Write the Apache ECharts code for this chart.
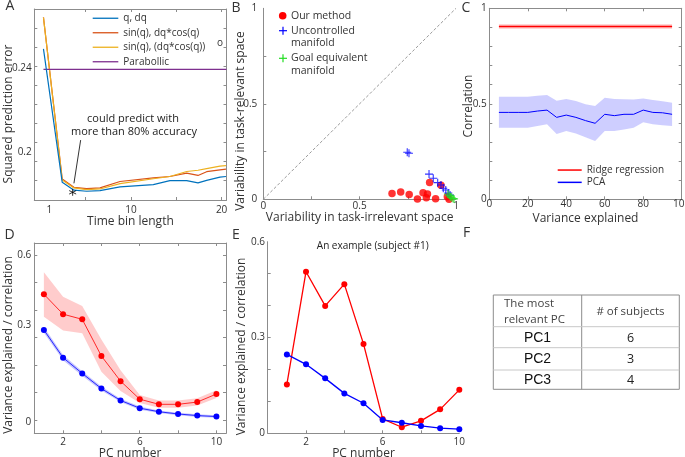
<!DOCTYPE html>
<html>
<head>
<meta charset="utf-8">
<script src="https://cdn.jsdelivr.net/npm/echarts@6/dist/echarts.min.js"></script>
<style>
html, body { margin: 0; padding: 0; background: #fff; }
#chart { width: 685px; height: 457px; }
</style>
</head>
<body>
<div id="chart"></div>
<script>
var FONT = 'Open Sans';
var TXT = '#333';
var AX = '#8c8c8c';

// A: prediction error vs time bin length
var binX = [0.36, 2.43, 3.72, 5.12, 6.59, 8.8, 12.47, 14.3, 16.15, 17.4, 18.35, 19.82, 20.48];
var errQ = [0.2494, 0.1853, 0.1815, 0.1810, 0.1813, 0.1831, 0.1842, 0.1861, 0.1861, 0.1850, 0.1862, 0.1878, 0.1881];
var errSin = [0.2646, 0.1869, 0.1829, 0.1823, 0.1826, 0.1857, 0.1874, 0.1881, 0.1897, 0.1886, 0.1904, 0.1913, 0.1916];
var errSinB = [0.2645, 0.1864, 0.1826, 0.1818, 0.1821, 0.1847, 0.1870, 0.1881, 0.1905, 0.1911, 0.1919, 0.1931, 0.1933];
var paraX = [0.36, 20.54];
var paraY = [0.2396, 0.2396];
var bestX = [3.58];
var bestY = [0.1805];

// B: variability
var ourX = [0.668, 0.713, 0.757, 0.80, 0.829, 0.852, 0.846, 0.863, 0.894, 0.922, 0.955, 0.964];
var ourY = [0.031, 0.038, 0.025, 0.002, 0.034, 0.028, 0.008, 0.088, 0.003, 0.074, 0.014, 0.0];
var ucmX = [0.747, 0.756, 0.86, 0.882, 0.905, 0.922, 0.934, 0.947, 0.96, 0.969];
var ucmY = [0.246, 0.241, 0.132, 0.11, 0.087, 0.075, 0.058, 0.049, 0.033, 0.022];
var gemX = [0.958, 0.965, 0.972, 0.978, 0.985, 0.99];
var gemY = [0.028, 0.02, 0.013, 0.008, 0.004, 0.002];

// C: correlation vs variance explained
var ridgeX = [5, 95];
var ridgeY = [0.905, 0.905];
var ridgeLo = [0.893, 0.893];
var ridgeHi = [0.917, 0.917];
var pcaX = [5, 10, 15, 20, 25, 30, 35, 40, 45, 50, 55, 60, 65, 70, 75, 80, 85, 90, 95];
var pcaY = [0.455, 0.455, 0.455, 0.455, 0.462, 0.467, 0.429, 0.441, 0.429, 0.412, 0.398, 0.445, 0.438, 0.445, 0.445, 0.467, 0.455, 0.453, 0.445];
var pcaHi = [0.537, 0.537, 0.537, 0.537, 0.542, 0.546, 0.516, 0.525, 0.515, 0.497, 0.488, 0.532, 0.525, 0.524, 0.523, 0.528, 0.520, 0.513, 0.506];
var pcaLo = [0.375, 0.375, 0.375, 0.375, 0.384, 0.393, 0.342, 0.358, 0.345, 0.325, 0.305, 0.358, 0.358, 0.366, 0.375, 0.403, 0.393, 0.388, 0.384];

// D: mean over subjects
var pcNum = [1, 2, 3, 4, 5, 6, 7, 8, 9, 10];
var dCorr = [0.396, 0.334, 0.318, 0.204, 0.126, 0.070, 0.054, 0.054, 0.061, 0.086];
var dCorrHi = [0.464, 0.388, 0.359, 0.255, 0.160, 0.083, 0.066, 0.066, 0.073, 0.098];
var dCorrLo = [0.326, 0.283, 0.275, 0.155, 0.095, 0.058, 0.043, 0.043, 0.050, 0.074];
var dVar = [0.285, 0.199, 0.150, 0.103, 0.066, 0.042, 0.031, 0.024, 0.019, 0.016];
var dVarHi = [0.294, 0.207, 0.157, 0.109, 0.071, 0.047, 0.035, 0.028, 0.023, 0.020];
var dVarLo = [0.276, 0.191, 0.143, 0.097, 0.061, 0.037, 0.027, 0.020, 0.015, 0.012];

// E: subject #1
var eCorr = [0.153, 0.506, 0.399, 0.467, 0.280, 0.045, 0.019, 0.039, 0.075, 0.136];
var eVar = [0.247, 0.216, 0.172, 0.125, 0.094, 0.042, 0.033, 0.023, 0.016, 0.013];

// F: table
var tableHead = ['The most\nrelevant PC', '# of subjects'];
var tablePC = ['PC1', 'PC2', 'PC3'];
var tableCount = [6, 3, 4];

// axis ticks / labels
var aXTicks = [5, 10, 15, 20], aXLabels = [1, 10, 20];
var aYTicks = [0.2593, 0.2502, 0.2411, 0.2321, 0.2228, 0.2137, 0.2046, 0.1954, 0.1863];
var aYLabels = [0.2, 0.24];
var bTicks = [0.25, 0.5, 0.75], bLabels = [0, 0.5, 1];
var cXTicks = [20, 40, 60, 80], cXLabels = [0, 20, 40, 60, 80, 100];
var cYTicks = [0.1, 0.2, 0.3, 0.4, 0.5, 0.6, 0.7, 0.8, 0.9], cYLabels = [0, 0.5, 1];
var pcTicks = [2, 4, 6, 8, 10], pcLabels = [2, 6, 10];
var dYTicks = [0.005, 0.090, 0.176, 0.261, 0.347, 0.432, 0.518];
var dYLabels = [0, 0.3, 0.516], dYText = ['0', '0.3', '0.6'];
var eYTicks = [0.1, 0.2, 0.3, 0.4, 0.5], eYLabels = [0, 0.3, 0.6];

function pairs(xs, ys) {
	return xs.map(function (x, i) { return [x, ys[i]]; });
}

function axis(gi, pos, min, max, ticks, labels, o) {
	o = o || {};
	var a = {
		type: 'value', gridIndex: gi, position: pos, min: min, max: max,
		splitLine: { show: false },
		axisLine: { show: true, onZero: false, lineStyle: { color: AX, width: 1 } },
		axisTick: { show: true, inside: true, length: 3, customValues: ticks, lineStyle: { color: AX } },
		axisLabel: { show: false }
	};
	if (labels) {
		a.axisLabel = {
			show: true, customValues: labels, fontSize: 10, color: TXT, fontFamily: FONT,
			margin: o.margin == null ? 3 : o.margin,
			formatter: function (v) {
				for (var i = 0; i < labels.length; i++) {
					if (Math.abs(labels[i] - v) < 1e-6) return o.text ? o.text[i] : String(labels[i]);
				}
				return String(v);
			}
		};
	}
	if (o.name) {
		a.name = o.name;
		a.nameLocation = 'middle';
		a.nameGap = o.gap;
		a.nameTextStyle = { fontSize: 12, color: TXT, fontFamily: FONT };
	}
	return a;
}

function band(xi, yi, xs, lo, hi, color) {
	return {
		type: 'custom', xAxisIndex: xi, yAxisIndex: yi, silent: true, z: 1,
		data: [[xs[0], lo[0]]],
		renderItem: function (params, api) {
			var pts = [];
			for (var i = 0; i < xs.length; i++) pts.push(api.coord([xs[i], hi[i]]));
			for (var j = xs.length - 1; j >= 0; j--) pts.push(api.coord([xs[j], lo[j]]));
			return { type: 'polygon', shape: { points: pts }, style: { fill: color } };
		}
	};
}

var PLUS = 'path://M4.3,0H5.7V4.3H10V5.7H5.7V10H4.3V5.7H0V4.3H4.3Z';
var STAR = 'path://M0,-5L0,5M-4.3,-2.5L4.3,2.5M-4.3,2.5L4.3,-2.5';

function txt(x, y, s, size, extra) {
	var st = { text: s, x: x, y: y, fill: TXT, fontSize: size, fontFamily: FONT, align: 'center', verticalAlign: 'middle' };
	for (var k in extra) st[k] = extra[k];
	return { type: 'text', silent: true, style: st };
}

// rotated y-axis titles
function ytitle(x, y, s) {
	return {
		type: 'text', silent: true, x: x, y: y, rotation: Math.PI / 2,
		style: { text: s, x: 0, y: 0, fill: TXT, fontSize: 12, fontFamily: FONT, align: 'center', verticalAlign: 'middle' }
	};
}

var graphics = [
	txt(10, 6, 'A', 14), txt(236, 8, 'B', 14), txt(466, 8, 'C', 14),
	txt(9.5, 235, 'D', 14), txt(236, 235, 'E', 14), txt(466.5, 233, 'F', 14),
	ytitle(8.5, 114, 'Squared prediction error'),
	ytitle(241, 121, 'Variability in task-relevant space'),
	ytitle(468.3, 106, 'Correlation'),
	ytitle(9, 345, 'Variance explained / correlation'),
	ytitle(241.7, 346.5, 'Variance explained / correlation'),
	txt(133, 118.7, 'could predict with', 11, { fill: '#222' }),
	txt(134, 132.2, 'more than 80% accuracy', 11, { fill: '#222' }),
	txt(220, 42.7, 'o', 10),
	txt(372.7, 245.7, 'An example (subject #1)', 10, { fill: '#222' }),
	// legend B
	{ type: 'circle', silent: true, shape: { cx: 282.7, cy: 15.7, r: 3.8 }, style: { fill: '#ff0000' } },
	txt(291, 15.7, 'Our method', 10.5, { align: 'left' }),
	{ type: 'line', silent: true, shape: { x1: 279, y1: 30.7, x2: 287, y2: 30.7 }, style: { stroke: '#0000ff', lineWidth: 1.2 } },
	{ type: 'line', silent: true, shape: { x1: 283, y1: 26.7, x2: 283, y2: 34.7 }, style: { stroke: '#0000ff', lineWidth: 1.2 } },
	txt(291, 30.7, 'Uncontrolled', 10.5, { align: 'left' }),
	txt(291, 43.3, 'manifold', 10.5, { align: 'left' }),
	{ type: 'line', silent: true, shape: { x1: 279, y1: 58.3, x2: 287, y2: 58.3 }, style: { stroke: '#22dd22', lineWidth: 1.2 } },
	{ type: 'line', silent: true, shape: { x1: 283, y1: 54.3, x2: 283, y2: 62.3 }, style: { stroke: '#22dd22', lineWidth: 1.2 } },
	txt(291, 58.3, 'Goal equivalent', 10.5, { align: 'left' }),
	txt(291, 71, 'manifold', 10.5, { align: 'left' })
];

// table F
var tLeft = 493.3, tRight = 679.3, tTop = 295, tBottom = 389.3, tMid = 581.7;
var rowLines = [326.7, 347.7, 370];
var rowCenters = [338.5, 359.5, 380];
graphics.push({ type: 'rect', silent: true, shape: { x: tLeft, y: tTop, width: tRight - tLeft, height: tBottom - tTop }, style: { fill: 'none', stroke: '#8c8c8c', lineWidth: 1 } });
graphics.push({ type: 'line', silent: true, shape: { x1: tMid, y1: tTop, x2: tMid, y2: tBottom }, style: { stroke: '#8c8c8c', lineWidth: 1 } });
rowLines.forEach(function (y) {
	graphics.push({ type: 'line', silent: true, shape: { x1: tLeft, y1: y, x2: tRight, y2: y }, style: { stroke: '#c8c8c8', lineWidth: 1 } });
});
graphics.push(txt(504, 312, tableHead[0], 11.5, { align: 'left', lineHeight: 16, fill: '#444' }));
graphics.push(txt((tMid + tRight) / 2, 312, tableHead[1], 11.5, { fill: '#444' }));
tablePC.forEach(function (s, i) {
	graphics.push(txt((tLeft + tMid) / 2, rowCenters[i], s, 14, { fontFamily: 'Liberation Sans', fill: '#111' }));
	graphics.push(txt((tMid + tRight) / 2, rowCenters[i], String(tableCount[i]), 12.5, { fill: '#222' }));
});

var lineBase = { type: 'line', symbol: 'none', animation: false };

var option = {
	animation: false,
	backgroundColor: '#fff',
	grid: [
		{ left: 34.3, top: 9, width: 192.2, height: 191, outerBoundsMode: 'none' },
		{ left: 263.3, top: 8.3, width: 192.7, height: 191, outerBoundsMode: 'none' },
		{ left: 489.3, top: 8.3, width: 192.4, height: 191, outerBoundsMode: 'none' },
		{ left: 34.3, top: 243, width: 191.7, height: 190.3, outerBoundsMode: 'none' },
		{ left: 267.7, top: 241.7, width: 191.6, height: 191.6, outerBoundsMode: 'none' }
	],
	xAxis: [
		axis(0, 'bottom', -0.65, 20.54, aXTicks, aXLabels, { name: 'Time bin length', gap: 11, margin: 5 }),
		axis(0, 'top', -0.65, 20.54, aXTicks, null),
		axis(1, 'bottom', 0, 1, bTicks, bLabels, { name: 'Variability in task-irrelevant space', gap: 9, margin: 1.5 }),
		axis(2, 'bottom', 0, 100, cXTicks, cXLabels, { name: 'Variance explained', gap: 13, margin: 0 }),
		axis(2, 'top', 0, 100, cXTicks, null),
		axis(3, 'bottom', 0.5, 10.5, pcTicks, pcLabels, { name: 'PC number', gap: 13.5, margin: 3.5 }),
		axis(3, 'top', 0.5, 10.5, pcTicks, null),
		axis(4, 'bottom', 0, 10, pcTicks.slice(0, 4), pcLabels, { name: 'PC number', gap: 12, margin: 3.5 })
	],
	yAxis: [
		axis(0, 'left', 0.1768, 0.2686, aYTicks, aYLabels, { margin: 2.6 }),
		axis(0, 'right', 0.1768, 0.2686, aYTicks, null),
		axis(1, 'left', 0, 1, bTicks, bLabels, { margin: 6 }),
		axis(2, 'left', 0, 1, cYTicks, cYLabels, { margin: 2.6 }),
		axis(2, 'right', 0, 1, cYTicks, null),
		axis(3, 'left', -0.036, 0.555, dYTicks, dYLabels, { margin: 3, text: dYText }),
		axis(3, 'right', -0.036, 0.555, dYTicks, null),
		axis(4, 'left', 0, 0.6, eYTicks, eYLabels, { margin: 2.7 })
	],
	legend: [
		{
			data: ['q, dq', 'sin(q), dq*cos(q)', 'sin(q), (dq*cos(q))', 'Parabollic'],
			orient: 'vertical', left: 92.7, top: 11, icon: 'rect', itemWidth: 25.6, itemHeight: 1.3, itemGap: 0,
			selectedMode: false, padding: 0,
			textStyle: { fontSize: 10, lineHeight: 14.5, color: TXT, fontFamily: FONT }
		},
		{
			data: ['Ridge regression', 'PCA'],
			orient: 'vertical', left: 557.7, top: 163.9, icon: 'rect', itemWidth: 24, itemHeight: 1.5, itemGap: 0,
			selectedMode: false, padding: 0,
			textStyle: { fontSize: 10, lineHeight: 12.3, color: TXT, fontFamily: FONT }
		}
	],
	graphic: graphics,
	series: [
		// A
		Object.assign({}, lineBase, { name: 'q, dq', xAxisIndex: 0, yAxisIndex: 0, data: pairs(binX, errQ), lineStyle: { color: '#0072BD', width: 1.2 }, itemStyle: { color: '#0072BD' }, z: 4 }),
		Object.assign({}, lineBase, { name: 'sin(q), dq*cos(q)', xAxisIndex: 0, yAxisIndex: 0, data: pairs(binX, errSin), lineStyle: { color: '#D95319', width: 1.2 }, itemStyle: { color: '#D95319' }, z: 3 }),
		Object.assign({}, lineBase, { name: 'sin(q), (dq*cos(q))', xAxisIndex: 0, yAxisIndex: 0, data: pairs(binX, errSinB), lineStyle: { color: '#EDB120', width: 1.2 }, itemStyle: { color: '#EDB120' }, z: 3 }),
		Object.assign({}, lineBase, { name: 'Parabollic', xAxisIndex: 0, yAxisIndex: 0, data: pairs(paraX, paraY), lineStyle: { color: '#7E2F8E', width: 1.2 }, itemStyle: { color: '#7E2F8E' }, z: 3 }),
		{
			type: 'scatter', xAxisIndex: 0, yAxisIndex: 0, data: pairs(bestX, bestY), symbol: STAR, symbolSize: 7,
			itemStyle: { color: 'transparent', borderColor: '#000', borderWidth: 1 }, z: 5, silent: true,
			markLine: {
				silent: true, symbol: ['none', 'arrow'], symbolSize: [0, 6],
				lineStyle: { color: '#000', width: 0.8, type: 'solid' }, label: { show: false },
				data: [[{ coord: [4.46, 0.2056] }, { coord: [3.72, 0.1848] }]]
			}
		},
		// B
		Object.assign({}, lineBase, { xAxisIndex: 2, yAxisIndex: 2, data: [[0, 0], [1, 1]], lineStyle: { color: '#9a9a9a', width: 1, type: [3, 2] }, z: 1 }),
		{ type: 'scatter', name: 'Our method', xAxisIndex: 2, yAxisIndex: 2, data: pairs(ourX, ourY), symbolSize: 7.5, clip: false, itemStyle: { color: '#ff0000' }, z: 3 },
		{ type: 'scatter', name: 'Uncontrolled manifold', xAxisIndex: 2, yAxisIndex: 2, data: pairs(ucmX, ucmY), symbol: PLUS, symbolSize: 8, clip: false, itemStyle: { color: '#0000ff', opacity: 0.8 }, z: 4 },
		{ type: 'scatter', name: 'Goal equivalent manifold', xAxisIndex: 2, yAxisIndex: 2, data: pairs(gemX, gemY), symbol: PLUS, symbolSize: 8, clip: false, itemStyle: { color: '#22dd22' }, z: 5 },
		// C
		band(3, 3, ridgeX, ridgeLo, ridgeHi, 'rgba(255,0,0,0.22)'),
		band(3, 3, pcaX, pcaLo, pcaHi, 'rgba(60,60,255,0.25)'),
		Object.assign({}, lineBase, { name: 'Ridge regression', xAxisIndex: 3, yAxisIndex: 3, data: pairs(ridgeX, ridgeY), lineStyle: { color: '#ff0000', width: 1.5 }, itemStyle: { color: '#ff0000' }, z: 3 }),
		Object.assign({}, lineBase, { name: 'PCA', xAxisIndex: 3, yAxisIndex: 3, data: pairs(pcaX, pcaY), lineStyle: { color: '#0000ff', width: 1 }, itemStyle: { color: '#0000ff' }, z: 3 }),
		// D
		band(5, 5, pcNum, dCorrLo, dCorrHi, 'rgba(255,0,0,0.2)'),
		band(5, 5, pcNum, dVarLo, dVarHi, 'rgba(60,60,255,0.3)'),
		{ type: 'line', xAxisIndex: 5, yAxisIndex: 5, data: pairs(pcNum, dCorr), symbol: 'circle', symbolSize: 6, lineStyle: { color: '#ff0000', width: 0.8 }, itemStyle: { color: '#ff0000' }, z: 3 },
		{ type: 'line', xAxisIndex: 5, yAxisIndex: 5, data: pairs(pcNum, dVar), symbol: 'circle', symbolSize: 6, lineStyle: { color: '#0000ff', width: 0.8 }, itemStyle: { color: '#0000ff' }, z: 3 },
		// E
		{ type: 'line', xAxisIndex: 7, yAxisIndex: 7, data: pairs(pcNum, eCorr), symbol: 'circle', symbolSize: 6, clip: false, lineStyle: { color: '#ff0000', width: 1.3 }, itemStyle: { color: '#ff0000' }, z: 3 },
		{ type: 'line', xAxisIndex: 7, yAxisIndex: 7, data: pairs(pcNum, eVar), symbol: 'circle', symbolSize: 6, clip: false, lineStyle: { color: '#0000ff', width: 1.3 }, itemStyle: { color: '#0000ff' }, z: 3 }
	]
};

var chart = echarts.init(document.getElementById('chart'));
chart.setOption(option);
</script>
</body>
</html>
